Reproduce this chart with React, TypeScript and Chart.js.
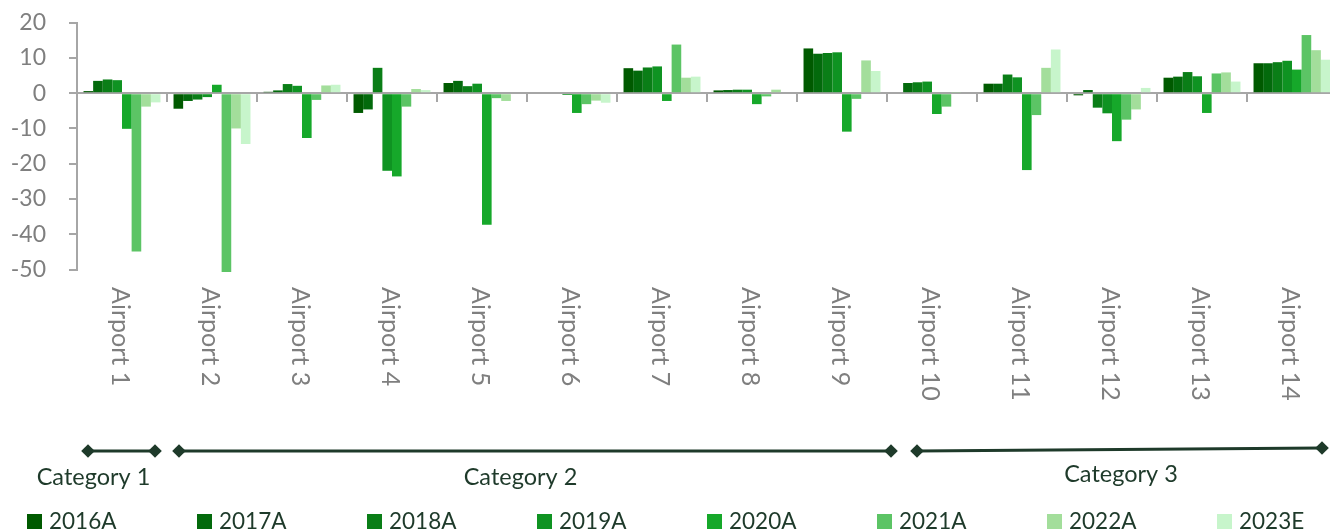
import React, { useEffect, useRef } from 'react';
import { Chart, registerables } from 'chart.js';

Chart.register(...registerables);

const categories = [
  'Airport 1', 'Airport 2', 'Airport 3', 'Airport 4', 'Airport 5', 'Airport 6', 'Airport 7',
  'Airport 8', 'Airport 9', 'Airport 10', 'Airport 11', 'Airport 12', 'Airport 13', 'Airport 14',
];

const seriesNames = ['2016A', '2017A', '2018A', '2019A', '2020A', '2021A', '2022A', '2023E'];

const values2016A = [0.6, -4.4, 0.4, -5.6, 2.9, 0, 7.1, 0.8, 12.7, 0, 2.7, -0.6, 4.4, 8.5];
const values2017A = [3.5, -2.2, 0.8, -4.6, 3.5, 0, 6.4, 0.9, 11.2, 2.9, 2.7, 0.9, 4.7, 8.5];
const values2018A = [3.9, -1.8, 2.6, 7.2, 2.0, 0, 7.3, 1.0, 11.4, 3.1, 5.3, -4.1, 6.0, 8.8];
const values2019A = [3.7, -1.1, 2.1, -22.0, 2.7, -0.5, 7.6, 1.0, 11.6, 3.3, 4.5, -5.7, 4.8, 9.2];
const values2020A = [-10.1, 2.4, -12.7, -23.6, -37.3, -5.6, -2.2, -3.1, -10.9, -5.9, -21.8, -13.6, -5.6, 6.7];
const values2021A = [-44.9, -50.7, -1.9, -3.8, -1.4, -3.1, 13.8, -0.9, -1.6, -3.8, -6.2, -7.5, 5.6, 16.5];
const values2022A = [-3.8, -10.0, 2.2, 1.2, -2.2, -2.1, 4.4, 1.0, 9.3, 0.2, 7.2, -4.6, 5.9, 12.2];
const values2023E = [-2.6, -14.4, 2.4, 0.9, 0, -2.7, 4.7, 0, 6.3, 0, 12.4, 1.5, 3.3, 9.5];

const seriesValues = [
  values2016A, values2017A, values2018A, values2019A,
  values2020A, values2021A, values2022A, values2023E,
];

const yMin = -50;
const yMax = 20;
const yStep = 10;

const groupNames = ['Category 1', 'Category 2', 'Category 3'];

const seriesColors = [
  '#005A00', '#036A0C', '#0A7E17', '#0F9322',
  '#16A82A', '#5CC465', '#A3DE9B', '#C7F5CB',
];

const FONT = 'Lato, "Open Sans", sans-serif';
const DARK = '#1E3A2A';
const GREY = '#7F7F7F';
const AXIS = '#A6A6A6';

const overlayPlugin = {
  id: 'overlay',
  afterDraw(chart: any) {
    const ctx = chart.ctx as CanvasRenderingContext2D;
    const xScale = chart.scales.x;

    // Rotated category labels (reading top to bottom)
    ctx.save();
    ctx.fillStyle = GREY;
    ctx.font = `25px ${FONT}`;
    ctx.textAlign = 'left';
    ctx.textBaseline = 'middle';
    categories.forEach((label, i) => {
      const cx = xScale.getPixelForValue(i) - 2;
      ctx.save();
      ctx.translate(cx, 287);
      ctx.rotate(Math.PI / 2);
      ctx.fillText(label, 0, 0);
      ctx.restore();
    });
    ctx.restore();

    // Group brackets
    const brackets = [
      { x1: 88, y1: 451, x2: 155, y2: 451, tx: 93.5, ty: 485 },
      { x1: 179, y1: 451, x2: 891, y2: 451, tx: 520.5, ty: 485 },
      { x1: 917, y1: 451, x2: 1322, y2: 448, tx: 1121, ty: 482 },
    ];
    const diamond = (x: number, y: number, r: number) => {
      ctx.beginPath();
      ctx.moveTo(x, y - r);
      ctx.lineTo(x + r, y);
      ctx.lineTo(x, y + r);
      ctx.lineTo(x - r, y);
      ctx.closePath();
      ctx.fill();
    };
    ctx.save();
    ctx.strokeStyle = DARK;
    ctx.fillStyle = DARK;
    ctx.lineWidth = 3;
    brackets.forEach((b, i) => {
      ctx.beginPath();
      ctx.moveTo(b.x1, b.y1);
      ctx.lineTo(b.x2, b.y2);
      ctx.stroke();
      diamond(b.x1, b.y1, 6.8);
      diamond(b.x2, b.y2, 6.8);
      ctx.font = `23.5px ${FONT}`;
      ctx.textAlign = 'center';
      ctx.textBaseline = 'alphabetic';
      ctx.fillText(groupNames[i], b.tx, b.ty);
    });
    ctx.restore();

    // Legend
    ctx.save();
    ctx.font = `22.5px ${FONT}`;
    ctx.textAlign = 'left';
    ctx.textBaseline = 'alphabetic';
    seriesNames.forEach((name, i) => {
      const x = 27 + 170 * i;
      ctx.fillStyle = seriesColors[i];
      ctx.fillRect(x, 514, 15, 15);
      ctx.fillStyle = DARK;
      ctx.fillText(name, x + 22, 529);
    });
    ctx.restore();
  },
};

export default function App() {
  const canvasRef = useRef<HTMLCanvasElement | null>(null);

  useEffect(() => {
    document.body.style.margin = '0';
    const canvas = canvasRef.current;
    if (!canvas) return;
    const chart = new Chart(canvas, {
      type: 'bar',
      data: {
        labels: categories,
        datasets: seriesNames.map((name, i) => ({
          label: name,
          data: seriesValues[i],
          backgroundColor: seriesColors[i],
          borderWidth: 0,
          categoryPercentage: 0.855,
          barPercentage: 1.0,
          clip: false as any,
        })),
      },
      options: {
        responsive: false,
        animation: false,
        devicePixelRatio: 1,
        events: [],
        layout: { padding: { top: 22.7, bottom: 261.5, left: 0, right: 8 } },
        plugins: {
          legend: { display: false },
          tooltip: { enabled: false },
        },
        scales: {
          x: {
            type: 'category',
            position: { y: 0 } as any,
            offset: true,
            grid: {
              offset: true,
              drawOnChartArea: false,
              drawTicks: true,
              tickLength: 8,
              color: AXIS,
              lineWidth: 2,
            },
            border: { display: true, color: AXIS, width: 2 },
            ticks: { display: false },
          },
          y: {
            min: yMin,
            max: yMax,
            afterFit: (scale: any) => {
              scale.width = 77;
              scale.paddingTop = 0;
              scale.paddingBottom = 0;
            },
            ticks: {
              stepSize: yStep,
              color: GREY,
              font: { family: FONT, size: 23 },
              padding: 23,
            },
            grid: {
              drawOnChartArea: false,
              drawTicks: true,
              tickLength: 8,
              color: AXIS,
              lineWidth: 2,
            },
            border: { display: true, color: AXIS, width: 2 },
          },
        },
      },
      plugins: [overlayPlugin],
    });
    return () => chart.destroy();
  }, []);

  return (
    <div style={{ position: 'fixed', left: 0, top: 0, width: 1330, height: 531, overflow: 'hidden', background: '#fff' }}>
      <canvas ref={canvasRef} width={1345} height={531} style={{ display: 'block' }} />
    </div>
  );
}
